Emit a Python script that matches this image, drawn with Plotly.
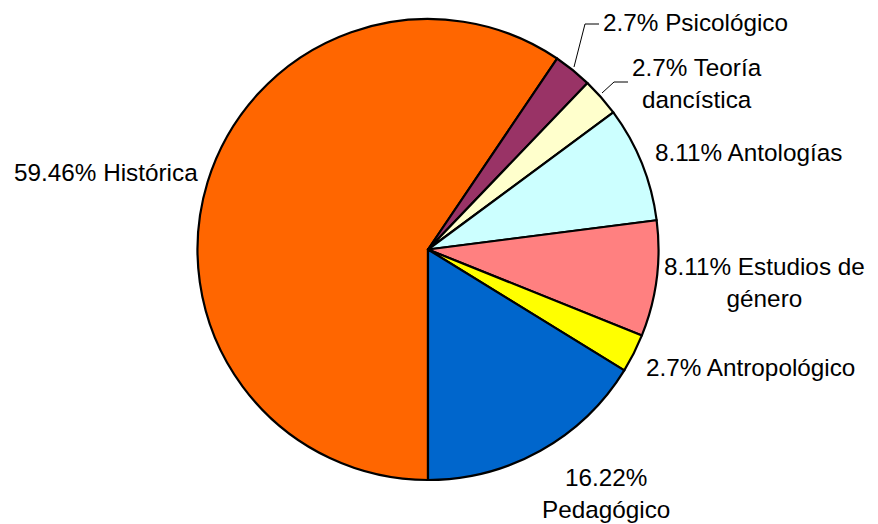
import plotly.graph_objects as go

# Data (count of items per category, 37 total)
categories = ["Histórica", "Psicológico", "Teoría dancística", "Antologías",
              "Estudios de género", "Antropológico", "Pedagógico"]
values = [22, 1, 1, 3, 3, 1, 6]
colors = ["#FF6600", "#993366", "#FFFFCC", "#CCFFFF", "#FF8080", "#FFFF00", "#0066CC"]

# Label layout: text pattern (where line breaks go) and pixel centre positions
label_patterns = ["{p}% {c}", "{p}% {c}", "{p}% Teoría<br>dancística", "{p}% {c}",
                  "{p}% Estudios de<br>género", "{p}% {c}", "{p}%<br>{c}"]
label_pos = [(105.5, 172), (695, 22), (697, 84), (748.5, 152),
             (764.5, 282), (750.5, 367), (606, 493)]

W, H = 878, 524
total = sum(values)
pcts = [f"{round(v / total * 100, 2):g}" for v in values]

fig = go.Figure(go.Pie(
    labels=categories, values=values, sort=False, direction="clockwise",
    rotation=180, textinfo="none", textposition="none",
    marker=dict(colors=colors, line=dict(color="black", width=2.2)),
    domain=dict(x=[197.5 / W, 658.5 / W], y=[1 - 480 / H, 1 - 19 / H]),
    showlegend=False, hoverinfo="label+percent",
))

annotations = []
for c, p, pat, (px, py) in zip(categories, pcts, label_patterns, label_pos):
    annotations.append(dict(
        text=pat.format(p=p, c=c), x=px / W, y=1 - py / H, xref="paper", yref="paper",
        xanchor="center", yanchor="middle", showarrow=False, align="center",
        font=dict(family="Liberation Sans, Arial, sans-serif", size=24.3, color="black"),
    ))

def pline(pts):
    path = "M " + " L ".join(f"{x / W},{1 - y / H}" for x, y in pts)
    return dict(type="path", path=path, xref="paper", yref="paper",
                line=dict(color="black", width=1))

shapes = [
    pline([(574, 67), (585, 24), (599, 24)]),
    pline([(602, 93), (614, 82), (628, 82)]),
]

fig.update_layout(
    width=W, height=H, margin=dict(l=0, r=0, t=0, b=0),
    paper_bgcolor="white", plot_bgcolor="white",
    annotations=annotations, shapes=shapes,
)
fig.write_html("out.html")
